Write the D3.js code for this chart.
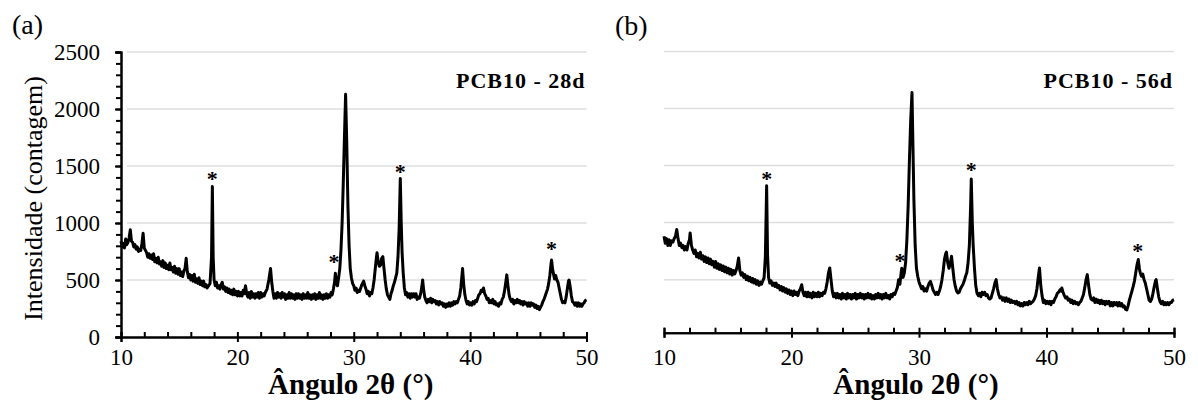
<!DOCTYPE html>
<html>
<head>
<meta charset="utf-8">
<script src="https://cdn.jsdelivr.net/npm/d3@7"></script>
<style>
  html, body { margin: 0; padding: 0; background: #fff; }
  svg { display: block; }
  svg text { font-family: "Liberation Serif", "Times New Roman", "DejaVu Serif", serif !important; fill: #000; }
</style>
</head>
<body>
<svg id="chart" width="1198" height="403"></svg>
<script>
// ---------- data ----------
const panelLabels = ["(a)", "(b)"];
const sampleNames = ["PCB10 - 28d", "PCB10 - 56d"];
const xTitle = "Ângulo 2θ (°)";
const yTitle = "Intensidade (contagem)";
const xTicks = [10, 20, 30, 40, 50];
const yTicks = [0, 500, 1000, 1500, 2000, 2500];

// PCB10 - 28d : [2θ, counts]
const pattern28 = [
  [10.0, 840], [10.1, 790], [10.2, 820], [10.3, 780], [10.4, 860], [10.5, 810], [10.6, 830], [10.7, 870], [10.8, 940], [10.9, 840], [11.0, 830], [11.1, 790], [11.2, 810], [11.3, 770], [11.4, 790],
  [11.5, 750], [11.6, 770], [11.7, 760], [11.8, 820], [11.9, 910], [12.0, 780], [12.1, 760], [12.2, 740], [12.3, 700], [12.4, 730], [12.5, 690], [12.6, 720], [12.7, 680], [12.8, 730],
  [12.9, 660], [13.0, 690], [13.1, 650], [13.2, 700], [13.3, 640], [13.4, 660], [13.5, 620], [13.6, 670], [13.7, 610], [13.8, 650], [13.9, 600], [14.0, 630], [14.1, 590], [14.2, 650], [14.3, 590], [14.4, 610],
  [14.5, 570], [14.6, 620], [14.7, 560], [14.8, 600], [14.9, 550], [15.0, 600], [15.1, 540], [15.2, 570], [15.3, 530], [15.4, 580], [15.5, 600], [15.6, 690], [15.7, 570], [15.8, 520], [15.9, 550],
  [16.0, 500], [16.1, 540], [16.2, 490], [16.3, 550], [16.4, 480], [16.5, 510], [16.6, 470], [16.7, 520], [16.8, 460], [16.9, 490], [17.0, 450], [17.1, 490], [17.2, 440], [17.3, 460], [17.4, 430], [17.5, 445],
  [17.65, 470], [17.78, 700], [17.85, 1320], [17.92, 700], [18.0, 500], [18.1, 450], [18.2, 480], [18.3, 430], [18.4, 450], [18.5, 420], [18.6, 460], [18.7, 480], [18.8, 420], [18.9, 440],
  [19.0, 400], [19.1, 430], [19.2, 390], [19.3, 420], [19.4, 380], [19.5, 410], [19.6, 370], [19.7, 420], [19.8, 370], [19.9, 400], [20.0, 360], [20.1, 400], [20.2, 360], [20.3, 390], [20.4, 360], [20.5, 410],
  [20.6, 380], [20.7, 450], [20.8, 380], [20.9, 350], [21.0, 390], [21.1, 340], [21.2, 400], [21.3, 350], [21.4, 380], [21.5, 340], [21.6, 380], [21.7, 350], [21.8, 390], [21.9, 340], [22.0, 390],
  [22.1, 350], [22.2, 380], [22.3, 360], [22.4, 390], [22.55, 420], [22.7, 500], [22.85, 600], [22.95, 480], [23.05, 400], [23.15, 340], [23.25, 380], [23.35, 340], [23.45, 390], [23.55, 350], [23.65, 380],
  [23.75, 340], [23.85, 390], [23.95, 350], [24.05, 380], [24.15, 330], [24.25, 370], [24.35, 340], [24.45, 390], [24.55, 340], [24.65, 380], [24.75, 340], [24.85, 370], [24.95, 330], [25.05, 380],
  [25.15, 340], [25.25, 380], [25.35, 340], [25.45, 370], [25.55, 330], [25.65, 380], [25.75, 340], [25.85, 370], [25.95, 340], [26.05, 390], [26.15, 340], [26.25, 370], [26.35, 330], [26.45, 370],
  [26.55, 340], [26.65, 380], [26.75, 330], [26.85, 370], [26.95, 340], [27.05, 390], [27.15, 340], [27.25, 370], [27.35, 330], [27.45, 370], [27.55, 340], [27.65, 380], [27.75, 340], [27.85, 370],
  [27.95, 350], [28.05, 390], [28.15, 370], [28.25, 420], [28.35, 480], [28.42, 560], [28.5, 470], [28.6, 450], [28.7, 520], [28.8, 600], [28.9, 760], [29.0, 1000], [29.1, 1350], [29.2, 1750], [29.3, 2130],
  [29.4, 1700], [29.5, 1150], [29.6, 800], [29.7, 600], [29.8, 520], [29.9, 470], [30.0, 450], [30.1, 410], [30.2, 430], [30.3, 390], [30.4, 410], [30.5, 400], [30.6, 430], [30.7, 460], [30.85, 490],
  [30.95, 450], [31.05, 420], [31.15, 380], [31.25, 400], [31.35, 360], [31.45, 390], [31.55, 380], [31.65, 430], [31.75, 500], [31.85, 600], [31.95, 700], [32.0, 740], [32.1, 660], [32.2, 620], [32.3, 630], [32.4, 690],
  [32.5, 705], [32.6, 600], [32.7, 500], [32.8, 420], [32.9, 370], [33.0, 350], [33.1, 330], [33.2, 380], [33.3, 410], [33.4, 450], [33.5, 480], [33.6, 520], [33.7, 560], [33.8, 700], [33.9, 950], [34.0, 1390],
  [34.08, 1000], [34.15, 750], [34.25, 560], [34.35, 430], [34.45, 370], [34.55, 390], [34.65, 350], [34.75, 380], [34.85, 340], [34.95, 380], [35.05, 350], [35.15, 380], [35.25, 350], [35.35, 380],
  [35.45, 330], [35.55, 350], [35.65, 340], [35.75, 380], [35.85, 440], [35.92, 500], [36.0, 420], [36.1, 350], [36.2, 320], [36.3, 300], [36.4, 330], [36.5, 310], [36.6, 340], [36.7, 300], [36.8, 330],
  [36.9, 310], [37.0, 320], [37.1, 290], [37.2, 310], [37.3, 280], [37.4, 310], [37.5, 290], [37.6, 300], [37.7, 270], [37.8, 290], [37.9, 260], [38.0, 290], [38.1, 270], [38.2, 300], [38.3, 270],
  [38.4, 300], [38.5, 280], [38.6, 310], [38.7, 290], [38.8, 310], [38.9, 300], [39.0, 330], [39.1, 360], [39.2, 430], [39.3, 540], [39.35, 600], [39.45, 460], [39.55, 370], [39.65, 320], [39.75, 290],
  [39.85, 310], [39.95, 280], [40.05, 300], [40.15, 280], [40.25, 310], [40.35, 290], [40.45, 320], [40.55, 310], [40.65, 340], [40.75, 370], [40.85, 380], [40.95, 410], [41.05, 400], [41.15, 430],
  [41.25, 380], [41.35, 360], [41.45, 330], [41.55, 340], [41.65, 300], [41.75, 320], [41.85, 300], [41.95, 330], [42.05, 290], [42.15, 310], [42.25, 280], [42.35, 290], [42.45, 270], [42.55, 300],
  [42.65, 290], [42.75, 330], [42.85, 350], [42.95, 400], [43.05, 470], [43.15, 545], [43.25, 450], [43.35, 370], [43.45, 330], [43.55, 310], [43.65, 330], [43.75, 290], [43.85, 320], [43.95, 300],
  [44.05, 330], [44.15, 300], [44.25, 320], [44.35, 290], [44.45, 310], [44.55, 280], [44.65, 310], [44.75, 290], [44.85, 300], [44.95, 270], [45.05, 300], [45.15, 270], [45.25, 300], [45.35, 280],
  [45.45, 290], [45.55, 260], [45.65, 280], [45.75, 250], [45.85, 270], [45.95, 240], [46.05, 260], [46.15, 280], [46.25, 310], [46.35, 330], [46.45, 360], [46.55, 390], [46.65, 420], [46.75, 470],
  [46.85, 540], [46.95, 640], [47.0, 675], [47.08, 600], [47.15, 560], [47.25, 510], [47.35, 540], [47.45, 500], [47.55, 480], [47.65, 430], [47.75, 380], [47.85, 330], [47.95, 300], [48.05, 310],
  [48.15, 300], [48.25, 350], [48.35, 420], [48.45, 490], [48.5, 500], [48.6, 440], [48.7, 360], [48.8, 310], [48.9, 300], [49.0, 280], [49.1, 300], [49.2, 270], [49.3, 300], [49.4, 270], [49.5, 290],
  [49.6, 270], [49.7, 290], [49.8, 300], [49.9, 320], [50.0, 325]
];

// PCB10 - 56d : [2θ, counts]
const pattern56 = [
  [10.0, 880], [10.1, 820], [10.2, 860], [10.3, 800], [10.4, 850], [10.5, 800], [10.6, 840], [10.7, 830], [10.8, 860], [10.9, 880], [11.0, 940], [11.1, 860], [11.2, 800], [11.3, 820], [11.4, 780],
  [11.5, 800], [11.6, 760], [11.7, 790], [11.8, 760], [11.9, 820], [12.0, 850], [12.05, 910], [12.15, 800], [12.25, 760], [12.35, 730], [12.45, 760], [12.55, 700], [12.65, 730], [12.75, 690],
  [12.85, 740], [12.95, 680], [13.05, 710], [13.15, 660], [13.25, 700], [13.35, 650], [13.45, 690], [13.55, 640], [13.65, 680], [13.75, 630], [13.85, 660], [13.95, 610], [14.05, 660], [14.15, 600],
  [14.25, 640], [14.35, 590], [14.45, 630], [14.55, 580], [14.65, 620], [14.75, 570], [14.85, 610], [14.95, 560], [15.05, 600], [15.15, 550], [15.25, 590], [15.35, 540], [15.45, 580], [15.55, 550],
  [15.65, 580], [15.75, 620], [15.85, 690], [15.95, 580], [16.05, 540], [16.15, 560], [16.25, 520], [16.35, 545], [16.45, 500], [16.55, 530], [16.65, 490], [16.75, 520], [16.85, 480], [16.95, 510],
  [17.05, 470], [17.15, 500], [17.25, 460], [17.35, 490], [17.45, 450], [17.55, 480], [17.65, 460], [17.75, 490], [17.85, 515], [17.95, 700], [18.05, 1323], [18.12, 720], [18.2, 520], [18.3, 470],
  [18.4, 490], [18.5, 450], [18.6, 470], [18.7, 440], [18.8, 470], [18.9, 430], [19.0, 450], [19.1, 410], [19.2, 440], [19.3, 400], [19.4, 430], [19.5, 390], [19.6, 420], [19.7, 380], [19.8, 410],
  [19.9, 370], [20.0, 400], [20.1, 360], [20.2, 400], [20.3, 370], [20.4, 390], [20.5, 360], [20.6, 400], [20.7, 420], [20.8, 455], [20.9, 390], [21.0, 360], [21.1, 390], [21.2, 350], [21.3, 390],
  [21.4, 350], [21.5, 380], [21.6, 340], [21.7, 390], [21.8, 350], [21.9, 380], [22.0, 350], [22.1, 390], [22.2, 350], [22.3, 380], [22.4, 360], [22.5, 390], [22.6, 380], [22.7, 420], [22.8, 480],
  [22.9, 560], [23.0, 603], [23.1, 500], [23.2, 400], [23.3, 350], [23.4, 380], [23.5, 340], [23.6, 380], [23.7, 340], [23.8, 370], [23.9, 330], [24.0, 380], [24.1, 340], [24.2, 370], [24.3, 330],
  [24.4, 380], [24.5, 340], [24.6, 370], [24.7, 330], [24.8, 370], [24.9, 340], [25.0, 380], [25.1, 330], [25.2, 370], [25.3, 340], [25.4, 380], [25.5, 340], [25.6, 370], [25.7, 330], [25.8, 370],
  [25.9, 340], [26.0, 380], [26.1, 340], [26.2, 370], [26.3, 330], [26.4, 360], [26.5, 330], [26.6, 370], [26.7, 340], [26.8, 380], [26.9, 340], [27.0, 370], [27.1, 330], [27.2, 370], [27.3, 340],
  [27.4, 380], [27.5, 340], [27.6, 360], [27.7, 330], [27.8, 370], [27.9, 350], [28.0, 380], [28.1, 370], [28.2, 400], [28.3, 430], [28.4, 500], [28.5, 460], [28.6, 560], [28.65, 600], [28.75, 520],
  [28.85, 560], [28.95, 650], [29.05, 850], [29.15, 1150], [29.25, 1550], [29.35, 1900], [29.45, 2140], [29.52, 1700], [29.6, 1200], [29.7, 800], [29.8, 600], [29.9, 530], [30.0, 480], [30.1, 450],
  [30.2, 420], [30.3, 440], [30.4, 400], [30.5, 420], [30.6, 400], [30.7, 440], [30.8, 470], [30.9, 485], [31.0, 450], [31.1, 410], [31.2, 390], [31.3, 370], [31.4, 390], [31.5, 370], [31.6, 400],
  [31.7, 440], [31.8, 500], [31.9, 580], [32.0, 680], [32.1, 730], [32.15, 741], [32.25, 650], [32.35, 600], [32.45, 640], [32.55, 705], [32.65, 600], [32.75, 500], [32.85, 440], [32.95, 400],
  [33.05, 383], [33.15, 390], [33.25, 420], [33.35, 440], [33.45, 460], [33.55, 490], [33.65, 530], [33.75, 560], [33.85, 650], [33.95, 800], [34.05, 1150], [34.1, 1382], [34.18, 1000], [34.25, 800],
  [34.35, 600], [34.45, 450], [34.55, 380], [34.65, 360], [34.75, 380], [34.85, 350], [34.95, 390], [35.05, 370], [35.15, 390], [35.25, 360], [35.35, 370], [35.45, 340], [35.55, 330], [35.65, 340],
  [35.75, 380], [35.85, 420], [35.95, 470], [36.05, 500], [36.15, 420], [36.25, 370], [36.35, 340], [36.45, 350], [36.55, 320], [36.65, 340], [36.75, 310], [36.85, 340], [36.95, 310], [37.05, 330],
  [37.15, 300], [37.25, 320], [37.35, 300], [37.45, 310], [37.55, 290], [37.65, 310], [37.75, 280], [37.85, 300], [37.95, 270], [38.05, 290], [38.15, 270], [38.25, 300], [38.35, 280], [38.45, 300],
  [38.55, 280], [38.65, 310], [38.75, 290], [38.85, 300], [38.95, 310], [39.05, 330], [39.15, 360], [39.25, 420], [39.35, 520], [39.45, 603], [39.55, 450], [39.65, 360], [39.75, 300], [39.85, 320],
  [39.95, 290], [40.05, 310], [40.15, 290], [40.25, 310], [40.35, 280], [40.45, 310], [40.55, 300], [40.65, 330], [40.75, 350], [40.85, 380], [40.95, 390], [41.05, 410], [41.15, 400], [41.2, 427],
  [41.3, 390], [41.4, 360], [41.5, 340], [41.6, 350], [41.7, 320], [41.8, 330], [41.9, 300], [42.0, 320], [42.1, 290], [42.2, 310], [42.3, 290], [42.4, 300], [42.5, 280], [42.6, 300], [42.7, 310],
  [42.8, 340], [42.9, 370], [43.0, 430], [43.1, 500], [43.2, 544], [43.3, 450], [43.4, 370], [43.5, 330], [43.6, 320], [43.7, 340], [43.8, 300], [43.9, 330], [44.0, 300], [44.1, 320], [44.2, 290],
  [44.3, 320], [44.4, 290], [44.5, 310], [44.6, 280], [44.7, 310], [44.8, 290], [44.9, 310], [45.0, 270], [45.1, 300], [45.2, 270], [45.3, 300], [45.4, 280], [45.5, 300], [45.6, 270], [45.7, 300],
  [45.8, 270], [45.9, 290], [46.0, 260], [46.1, 270], [46.2, 240], [46.3, 235], [46.4, 270], [46.5, 320], [46.6, 360], [46.7, 400], [46.8, 441], [46.9, 490], [47.0, 560], [47.1, 630], [47.2, 676],
  [47.28, 600], [47.35, 560], [47.45, 530], [47.55, 550], [47.65, 500], [47.75, 470], [47.85, 420], [47.95, 370], [48.05, 320], [48.15, 309], [48.25, 330], [48.35, 380], [48.45, 440], [48.55, 490],
  [48.6, 500], [48.7, 420], [48.8, 350], [48.9, 309], [49.0, 290], [49.1, 310], [49.2, 280], [49.3, 300], [49.4, 280], [49.5, 300], [49.6, 280], [49.7, 300], [49.8, 300], [49.9, 320], [50.0, 324]
];

// asterisk markers [2θ, counts]
const stars28 = [[17.85, 1420], [28.3, 690], [34.0, 1480], [47.0, 805]];
const stars56 = [[18.05, 1420], [28.5, 700], [34.1, 1500], [47.15, 790]];

// ---------- drawing ----------
const SERIF = "'Liberation Serif', 'Times New Roman', 'DejaVu Serif', serif";
const svg = d3.select("#chart");

const panels = [
  { data: pattern28, stars: stars28, name: sampleNames[0], label: panelLabels[0],
    xr: [121, 586.5], yr: [337, 52], yAxis: true, axisShift: 0, labelPad: 7, labelPos: [12, 34] },
  { data: pattern56, stars: stars56, name: sampleNames[1], label: panelLabels[1],
    xr: [664, 1174], yr: [336.7, 51.5], yAxis: false, axisShift: -4, labelPad: 11, labelPos: [615, 35] }
];

panels.forEach(p => {
  const x = d3.scaleLinear().domain([10, 50]).range(p.xr);
  const y = d3.scaleLinear().domain([0, 2500]).range(p.yr);
  const g = svg.append("g");

  // gridlines
  g.append("g").selectAll("line")
    .data(yTicks.filter(v => v > 0))
    .join("line")
    .attr("x1", x(10) + (p.yAxis ? 6 : 0)).attr("x2", x(50))
    .attr("y1", d => y(d)).attr("y2", d => y(d))
    .attr("stroke", "#dedede").attr("stroke-width", 1.5);

  // pattern line
  const line = d3.line().x(d => x(d[0])).y(d => y(d[1])).curve(d3.curveLinear);
  g.append("path").datum(p.data)
    .attr("d", line)
    .attr("fill", "none").attr("stroke", "#000")
    .attr("stroke-width", 3).attr("stroke-linejoin", "round");

  // asterisks
  g.append("g").selectAll("text")
    .data(p.stars).join("text")
    .attr("x", d => x(d[0])).attr("y", d => y(d[1]) + 11)
    .attr("text-anchor", "middle")
    .style("font-family", SERIF)
    .attr("font-size", 22).attr("font-weight", "bold")
    .text("*");

  // x axis
  const axY = y(0) + p.axisShift;
  const xMinor = g.append("g").attr("transform", `translate(0,${axY})`)
    .call(d3.axisBottom(x).tickValues(d3.range(10, 50.1, 2)).tickSize(-5).tickFormat(""));
  const xMajor = g.append("g").attr("transform", `translate(0,${axY})`)
    .call(d3.axisBottom(x).tickValues(xTicks).tickSize(5).tickPadding(p.labelPad).tickFormat(d3.format("d")));
  [xMinor, xMajor].forEach(a => {
    a.select(".domain").attr("stroke", "#000").attr("stroke-width", 2);
    a.selectAll(".tick line").attr("stroke", "#000").attr("stroke-width", 2);
  });
  xMajor.selectAll(".tick text")
    .style("font-family", SERIF).attr("font-size", 23).attr("fill", "#000");

  // y axis
  if (p.yAxis) {
    const yMinor = g.append("g").attr("transform", `translate(${x(10)},0)`)
      .call(d3.axisLeft(y).tickValues(d3.range(0, 2501, 100)).tickSize(5).tickFormat(""));
    const yMajor = g.append("g").attr("transform", `translate(${x(10)},0)`)
      .call(d3.axisLeft(y).tickValues(yTicks).tickSize(6).tickPadding(15).tickFormat(d3.format("d")));
    [yMinor, yMajor].forEach(a => {
      a.select(".domain").attr("stroke", "#000").attr("stroke-width", 2);
      a.selectAll(".tick line").attr("stroke", "#000").attr("stroke-width", 2);
    });
    yMajor.selectAll(".tick text")
      .style("font-family", SERIF).attr("font-size", 23).attr("fill", "#000");

    svg.append("text")
      .attr("transform", `translate(42,${(y(0) + y(2500)) / 2 + 4}) rotate(-90)`)
      .attr("text-anchor", "middle")
      .style("font-family", SERIF)
      .attr("font-size", 26)
      .text(yTitle);
  }

  // x title
  svg.append("text")
    .attr("x", (x(10) + x(50)) / 2 - 3).attr("y", 394)
    .attr("text-anchor", "middle")
    .style("font-family", SERIF)
    .attr("font-size", 29).attr("font-weight", "bold")
    .text(xTitle);

  // sample name
  svg.append("text")
    .attr("x", x(50) - 1).attr("y", 88)
    .attr("text-anchor", "end")
    .style("font-family", SERIF)
    .attr("font-size", 22).attr("font-weight", "bold")
    .attr("letter-spacing", 1)
    .text(p.name);

  // panel label
  svg.append("text")
    .attr("x", p.labelPos[0]).attr("y", p.labelPos[1])
    .style("font-family", SERIF)
    .attr("font-size", 28)
    .text(p.label);
});
</script>
</body>
</html>
